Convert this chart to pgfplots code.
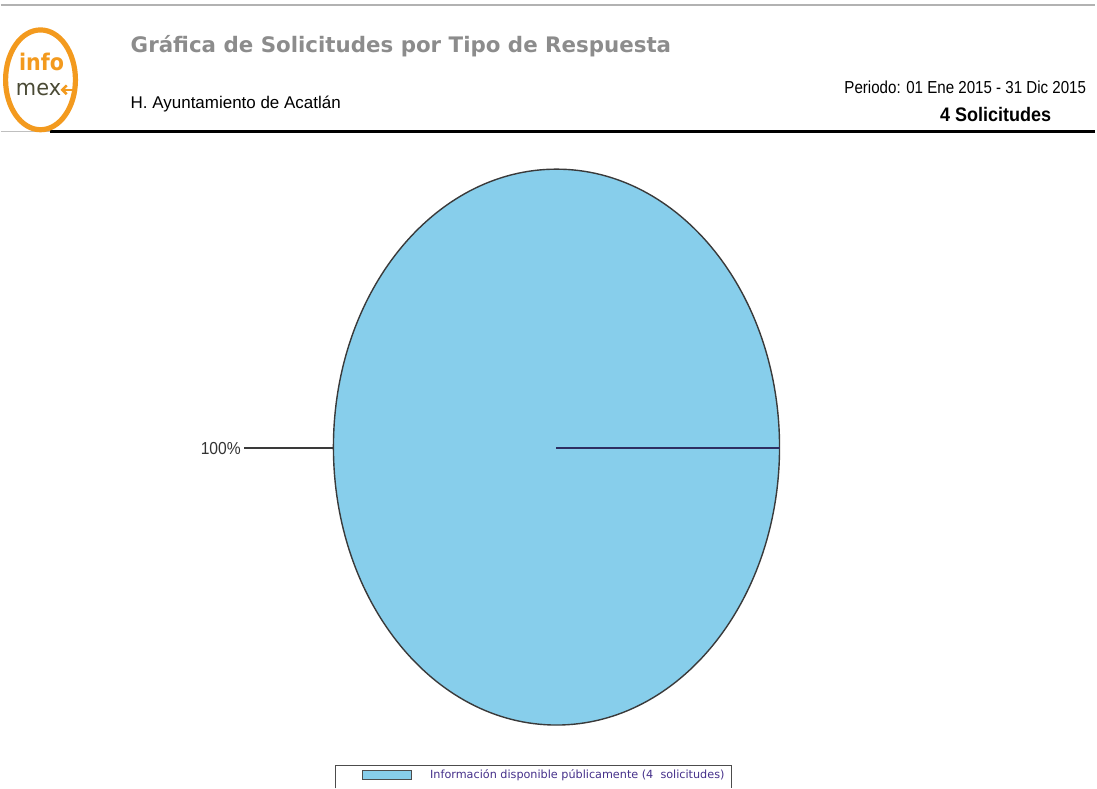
\documentclass[border=0pt]{standalone}
\usepackage{pgfplots}
\pgfplotsset{compat=1.18}
\usepackage{pgfplotstable}
\usetikzlibrary{arrows.meta}
\usepackage{fontspec}
\setmainfont{Liberation Sans}
\newfontfamily\verd{DejaVu Sans}

\definecolor{pieblue}{HTML}{87CEEB}
\definecolor{pieedge}{HTML}{3A3A3A}
\definecolor{titlegray}{HTML}{8C8C8C}
\definecolor{logoorange}{HTML}{F39A1E}
\definecolor{logogreen}{HTML}{4A4A35}
\definecolor{legtext}{HTML}{45308A}

% one slice: response type and number of requests
\pgfplotstableread[col sep=comma]{
tipo,solicitudes
Informacion disponible,4
}\datos

\begin{document}
\begin{tikzpicture}
\begin{axis}[
    width=548.5pt, height=394pt,
    scale only axis,
    xmin=0, xmax=1097, ymin=0, ymax=788,
    y dir=reverse,
    hide axis,
    clip=false,
]
\path (axis cs:0,0) rectangle (axis cs:1097,788);

% header
\draw[gray!60, line width=0.6pt] (axis cs:0,5) -- (axis cs:1097,5);
\draw[ultra thick, black] (axis cs:50,132) -- (axis cs:1097,132);
\draw[gray!50, line width=0.5pt] (axis cs:0,132) -- (axis cs:50,132);
\draw[logoorange, line width=2.6pt] (axis cs:40,80) ellipse [x radius=35, y radius=50];
\node[logoorange, font=\verd\bfseries\fontsize{11.5}{12}\selectfont, inner sep=0pt, xscale=0.9]
  at (axis cs:41,62) {info};
\node[logogreen, font=\verd\fontsize{11}{12}\selectfont, inner sep=0pt, anchor=east, xscale=0.95]
  at (axis cs:61,90) {mex};
\draw[logoorange, line width=1.3pt, -{Straight Barb[length=2.2pt]}] (axis cs:72,90) -- (axis cs:60,90);
\node[titlegray, font=\verd\bfseries\fontsize{10.7}{12}\selectfont, anchor=west, inner sep=0pt]
  at (axis cs:130,46) {Gráfica de Solicitudes por Tipo de Respuesta};
\node[font=\fontsize{8.5}{10}\selectfont, anchor=west, inner sep=0pt]
  at (axis cs:130,104) {H. Ayuntamiento de Acatlán};
\node[font=\fontsize{8.7}{10}\selectfont, anchor=east, inner sep=0pt, xscale=0.87]
  at (axis cs:1088,87) {Periodo: 01 Ene 2015 - 31 Dic 2015};
\node[font=\bfseries\fontsize{9.8}{10}\selectfont, inner sep=0pt, xscale=0.92]
  at (axis cs:997,115) {4 Solicitudes};

% pie: a single slice of 4 out of 4 requests (100%)
\pgfplotstablegetelem{0}{solicitudes}\of\datos
\pgfmathsetmacro{\total}{\pgfplotsretval}
\pgfmathtruncatemacro{\pct}{100*\pgfplotsretval/\total}
\fill[pieblue] (axis cs:557,448) ellipse [x radius=223.5, y radius=278.5];
\draw[pieedge, line width=0.7pt] (axis cs:557,448) ellipse [x radius=223.5, y radius=278.5];
\draw[pieedge!80!blue, line width=0.9pt] (axis cs:557,449) -- (axis cs:781,449);
\draw[pieedge, line width=0.7pt] (axis cs:244,449) -- (axis cs:334,449);
\node[anchor=east, inner sep=0pt, text=black!80, font=\fontsize{8.7}{10}\selectfont, xscale=0.9]
  at (axis cs:241,449) {\pct\%};

% legend
\draw[black!70, line width=0.5pt] (axis cs:336,790) -- (axis cs:336,767) -- (axis cs:732,767) -- (axis cs:732,790);
\filldraw[fill=pieblue, draw=black!70, line width=0.4pt] (axis cs:363,772) rectangle (axis cs:412,781);
\node[anchor=west, inner sep=0pt, text=legtext, font=\verd\fontsize{5.62}{6}\selectfont]
  at (axis cs:430,776.5) {Información disponible públicamente (4~ solicitudes)};
\end{axis}
\end{tikzpicture}
\end{document}
